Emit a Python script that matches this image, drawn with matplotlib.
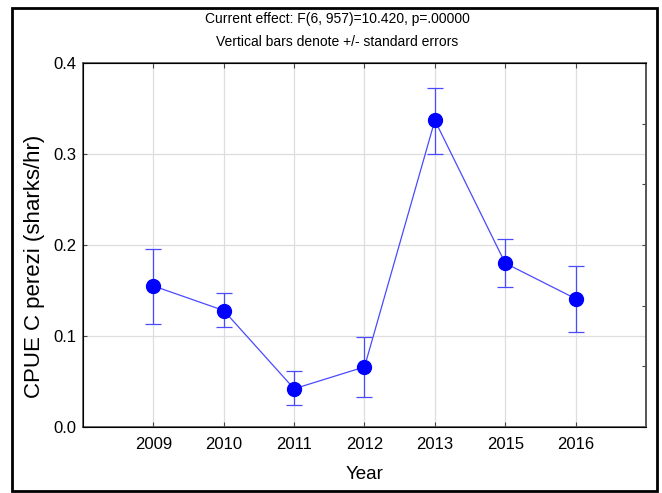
import numpy as np
import matplotlib.pyplot as plt
from matplotlib.patches import Rectangle

years = ['2009', '2010', '2011', '2012', '2013', '2015', '2016']
cpue = [0.155, 0.128, 0.042, 0.066, 0.337, 0.180, 0.141]
se_low = [0.113, 0.110, 0.024, 0.033, 0.300, 0.154, 0.104]
se_high = [0.196, 0.147, 0.061, 0.099, 0.373, 0.207, 0.177]

plt.rcParams['font.family'] = ['Liberation Sans', 'DejaVu Sans']

fig = plt.figure(figsize=(6.62, 4.93), dpi=100)
ax = fig.add_axes([0.1254, 0.1339, 0.8504, 0.7383])

x = np.arange(1, len(years) + 1)
y = np.array(cpue)
yerr = [y - np.array(se_low), np.array(se_high) - y]

ax.plot(x, y, color='#4a4aff', lw=0.9, zorder=3)
ax.errorbar(x, y, yerr=yerr, fmt='none', ecolor='#4a4aff', elinewidth=0.9,
            capsize=5.5, capthick=0.9, zorder=3)
ax.plot(x, y, 'o', color='#0000ff', ms=10, zorder=4)

ax.set_xlim(0, len(years) + 1)
ax.set_ylim(0, 0.4)
ax.set_xticks(x)
ax.set_xticklabels(years, fontsize=12)
ax.set_yticks([0.0, 0.1, 0.2, 0.3, 0.4])
ax.set_yticklabels(['0.0', '0.1', '0.2', '0.3', '0.4'], fontsize=12)
ax.grid(True, color='#dedede', lw=0.9)
ax.set_axisbelow(True)
ax.tick_params(axis='x', direction='in', top=True, length=3.5, color='#444444', pad=7)
ax.tick_params(axis='y', direction='in', length=3, color='#444444', pad=5)
for s in ax.spines.values():
    s.set_color('#555555')
    s.set_linewidth(1.2)

ax.set_xlabel('Year', fontsize=13.5, labelpad=10)
ax.set_ylabel('CPUE C perezi (sharks/hr)', fontsize=16)
ax.yaxis.set_label_coords(-0.0675, 0.442)

# right axis ticks, Statistica style
ax2 = ax.twinx()
ax2.set_ylim(0, 0.4)
ax2.set_yticks(np.linspace(0, 0.4, 7))
ax2.set_yticklabels([])
ax2.tick_params(axis='y', direction='in', length=3, color='#444444')
ax2.spines['right'].set_color('#555555')
ax2.spines['right'].set_linewidth(1.2)

fig.text(0.51, 0.962, 'Current effect: F(6, 957)=10.420, p=.00000',
         ha='center', va='center', fontsize=10)
fig.text(0.51, 0.915, 'Vertical bars denote +/- standard errors',
         ha='center', va='center', fontsize=10)

fig.patches.append(Rectangle((12 / 662, 2 / 493), 645 / 662, 483 / 493,
                             transform=fig.transFigure, fill=False,
                             edgecolor='black', lw=2))

fig.savefig('out.png', dpi=100)
